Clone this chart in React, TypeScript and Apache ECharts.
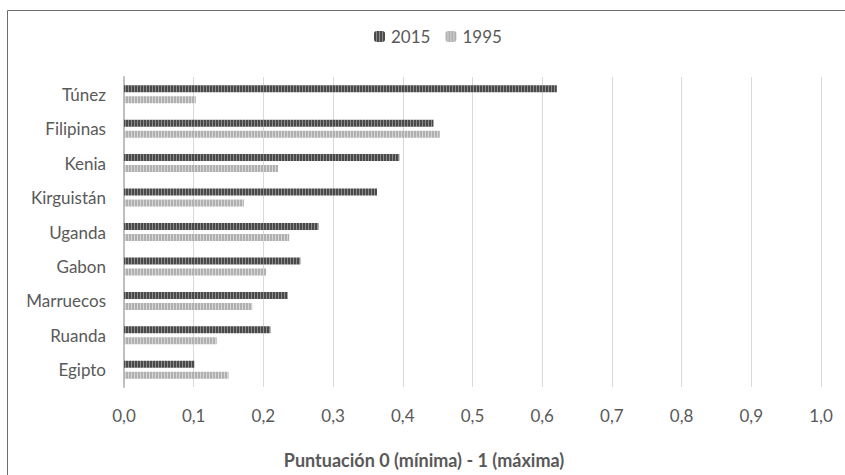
import React, { useEffect, useRef } from "react";
import * as echarts from "echarts";

const categories = ["Túnez", "Filipinas", "Kenia", "Kirguistán", "Uganda", "Gabon", "Marruecos", "Ruanda", "Egipto"];
const values2015 = [0.621, 0.444, 0.395, 0.363, 0.279, 0.253, 0.235, 0.21, 0.101];
const values1995 = [0.103, 0.453, 0.221, 0.172, 0.237, 0.204, 0.184, 0.133, 0.15];
const seriesNames = ["2015", "1995"];
const axisName = "Puntuación 0 (mínima) - 1 (máxima)";

function stripe(dark: string, light: string) {
  const c = document.createElement("canvas");
  c.width = 3;
  c.height = 4;
  const ctx = c.getContext("2d")!;
  ctx.fillStyle = light;
  ctx.fillRect(0, 0, 3, 4);
  ctx.fillStyle = dark;
  ctx.fillRect(0, 0, 2, 4);
  return { image: c, repeat: "repeat" } as any;
}

export default function App() {
  const ref = useRef<HTMLDivElement>(null);
  useEffect(() => {
    document.body.style.margin = "0";
    const chart = echarts.init(ref.current!, null, { renderer: "svg" });
    const font = "Lato, 'Open Sans', sans-serif";
    const txt = "#595959";
    chart.setOption({
      animation: false,
      textStyle: { fontFamily: font },
      legend: {
        top: 23,
        left: 369,
        itemWidth: 11,
        itemHeight: 11,
        itemGap: 15,
        textStyle: { fontSize: 17, color: txt, fontFamily: font, padding: [0, 0, 0, 1] },
        data: seriesNames,
      },
      grid: { left: 124, right: 24, top: 77, bottom: 88, containLabel: false },
      xAxis: {
        type: "value",
        min: 0,
        max: 1,
        interval: 0.1,
        axisLine: { show: false },
        axisTick: { show: false },
        splitLine: { lineStyle: { color: "#d9d9d9", width: 1 } },
        axisLabel: {
          fontSize: 17,
          color: txt,
          margin: 20,
          formatter: (v: number) => v.toFixed(1).replace(".", ","),
        },
      },
      yAxis: {
        type: "category",
        inverse: true,
        data: categories,
        axisLine: { show: true, lineStyle: { color: "#bfbfbf", width: 2 } },
        axisTick: { show: false },
        axisLabel: { fontSize: 17, color: txt, margin: 18 },
      },
      graphic: [
        {
          type: "rect",
          shape: { x: 7.5, y: 10.5, width: 900, height: 600 },
          style: { fill: "none", stroke: "#6e6e6e", lineWidth: 1 },
          silent: true,
        },
        {
          type: "text",
          x: 424,
          y: 460,
          style: {
            text: axisName,
            fontSize: 18,
            fontWeight: "bold",
            fill: txt,
            fontFamily: font,
            align: "center",
            verticalAlign: "middle",
          },
        },
      ],
      series: [
        {
          name: seriesNames[0],
          type: "bar",
          data: values2015,
          barWidth: 7,
          barGap: "57%",
          itemStyle: { color: stripe("#4a4a4a", "#8c8c8c") },
        },
        {
          name: seriesNames[1],
          type: "bar",
          data: values1995,
          barWidth: 7,
          barGap: "57%",
          itemStyle: { color: stripe("#b0b0b0", "#d6d6d6") },
        },
      ],
    });
    return () => chart.dispose();
  }, []);
  return <div ref={ref} style={{ width: 845, height: 475 }} />;
}
